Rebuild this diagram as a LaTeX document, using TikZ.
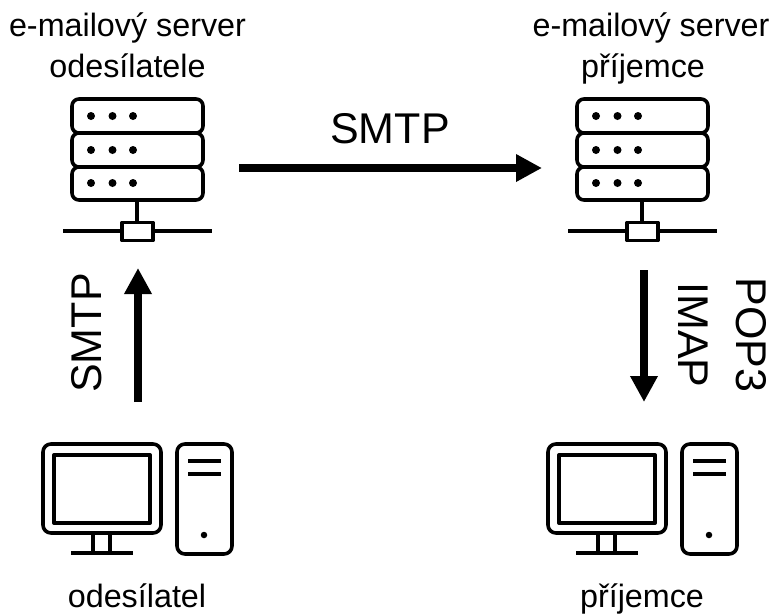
\documentclass[tikz,border=0pt]{standalone}
\usepackage{fontspec}
\setmainfont{Liberation Sans}
\usetikzlibrary{arrows.meta}
\tikzset{
  icon/.style={line width=3.6pt,black,line cap=round,line join=round},
  label/.style={font=\fontsize{32.3}{41}\selectfont,anchor=base,inner sep=0pt,text=black},
  biglabel/.style={font=\fontsize{43}{48}\selectfont,inner sep=0pt,text=black},
  flow/.style={line width=7.5pt,black,-{Triangle[length=26pt,width=26pt]}},
  hub/.style={draw,icon,fill=white,minimum width=31pt,minimum height=18pt,inner sep=0pt},
  dotmark/.style={circle,fill=black,inner sep=0pt,minimum size=8pt},
  dotsmall/.style={circle,fill=black,inner sep=0pt,minimum size=6.5pt},
  srvserver/.pic={
    \draw[icon,rounded corners=7pt] (72,99) rectangle (203,133);
    \draw[icon,rounded corners=7pt] (72,133) rectangle (203,167);
    \draw[icon,rounded corners=7pt] (72,167) rectangle (203,200);
    \foreach \yy in {116,150,183}
      \foreach \xx in {91,112.5,133}
        \node[dotmark] at (\xx,\yy) {};
    \draw[icon,line cap=butt] (137,200) -- (137,223);
    \draw[icon,line cap=butt] (63,231) -- (212,231);
    \node[hub] at (137.5,231.5) {};
  },
  pcstation/.pic={
    \draw[icon,rounded corners=8pt] (43,444) rectangle (161,533);
    \draw[icon,line width=4pt] (54,455) rectangle (150,523);
    \draw[icon,line cap=butt] (93,533) -- (93,553);
    \draw[icon,line cap=butt] (110,533) -- (110,553);
    \draw[icon,line cap=butt] (71,553) -- (133,553);
    \draw[icon,rounded corners=8pt] (177,444) rectangle (232,554);
    \draw[icon,line cap=butt] (188,461) -- (221,461);
    \draw[icon,line cap=butt] (188,474) -- (221,474);
    \node[dotsmall] at (204,535) {};
  }
}
\begin{document}
\begin{tikzpicture}[x=1pt,y=-1pt]
\useasboundingbox (0,0) rectangle (772,614);
\pic at (0,0) {srvserver};
\pic at (505,0) {srvserver};
\pic at (0,0) {pcstation};
\pic at (505,0) {pcstation};
\node[label] (srvA1) at (127.5,36) {e-mailový server};
\node[label] (srvA2) at (127.5,77) {odesílatele};
\node[label] (srvB1) at (651,36) {e-mailový server};
\node[label] (srvB2) at (643,77) {příjemce};
\node[label] (pcA) at (137,607.5) {odesílatel};
\node[label] (pcB) at (642,607.5) {příjemce};
\coordinate (a1) at (239,168);
\coordinate (a2) at (542,168);
\coordinate (b1) at (138,402);
\coordinate (b2) at (138,268);
\coordinate (c1) at (644,270);
\coordinate (c2) at (644,402);
\draw[flow] (a1) -- (a2);
\draw[flow] (b1) -- (b2);
\draw[flow] (c1) -- (c2);
\node[biglabel] (t1) at (390,129) {SMTP};
\node[biglabel,rotate=90] (t2) at (87,333) {SMTP};
\node[biglabel,rotate=-90] (t3) at (693,335) {IMAP};
\node[biglabel,rotate=-90] (t4) at (751,335) {POP3};
\end{tikzpicture}
\end{document}
